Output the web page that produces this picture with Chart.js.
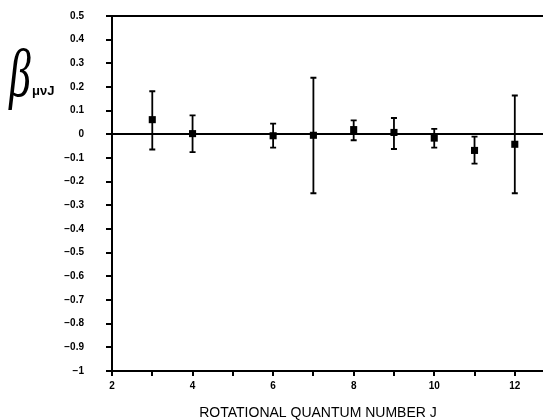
<!DOCTYPE html>
<html>
<head>
<meta charset="utf-8">
<script src="https://cdn.jsdelivr.net/npm/chart.js@4/dist/chart.umd.min.js"></script>
<style>
  html, body { margin: 0; padding: 0; background: #fff; }
</style>
</head>
<body>
<canvas id="chart" width="543" height="420"></canvas>
<script>
// Rotational quantum number J and measured beta (with error limits)
const jValues = [3, 4, 6, 7, 8, 9, 10, 11, 12];
const betaValues = [0.062, 0.003, -0.006, -0.004, 0.02, 0.008, -0.016, -0.068, -0.042];
const betaUpper = [0.182, 0.08, 0.045, 0.239, 0.059, 0.069, 0.023, -0.01, 0.164];
const betaLower = [-0.064, -0.075, -0.056, -0.249, -0.025, -0.062, -0.056, -0.124, -0.249];
const xTickLabels = [2, 4, 6, 8, 10, 12];

const tickFont = { family: "'Liberation Sans', Arial, sans-serif", size: 10, weight: 'bold' };

function yLabel(v) {
    const r = Math.round(v * 10) / 10;
    if (r === 0) return '0';
    if (r === -1) return '\u22121';
    return r < 0 ? '\u2212' + Math.abs(r).toFixed(1) : r.toFixed(1);
}

// error bars drawn through the y scale
const errorBars = {
    id: 'errorBars',
    afterDatasetsDraw(chart) {
        const { ctx, scales: { x, y } } = chart;
        ctx.save();
        ctx.strokeStyle = '#000';
        ctx.lineWidth = 1.8;
        jValues.forEach((j, i) => {
            const px = x.getPixelForValue(j);
            const top = y.getPixelForValue(betaUpper[i]);
            const bot = y.getPixelForValue(betaLower[i]);
            ctx.beginPath();
            ctx.moveTo(px, top);
            ctx.lineTo(px, bot);
            ctx.moveTo(px - 3, top);
            ctx.lineTo(px + 3, top);
            ctx.moveTo(px - 3, bot);
            ctx.lineTo(px + 3, bot);
            ctx.stroke();
        });
        ctx.restore();
    }
};

// y tick labels sit well left of the tick marks, axis titles
const axisText = {
    id: 'axisText',
    afterDraw(chart) {
        const { ctx, scales: { y } } = chart;
        ctx.save();
        ctx.fillStyle = '#000';
        ctx.font = "bold 10px 'Liberation Sans', Arial, sans-serif";
        ctx.textAlign = 'right';
        ctx.textBaseline = 'middle';
        y.ticks.forEach(t => {
            ctx.fillText(yLabel(t.value), 84, y.getPixelForValue(t.value));
        });

        ctx.textAlign = 'center';
        ctx.font = "14px 'Liberation Sans', Arial, sans-serif";
        ctx.fillText('ROTATIONAL QUANTUM NUMBER J', 318, 413);

        ctx.textAlign = 'left';
        ctx.textBaseline = 'alphabetic';
        ctx.font = "bold 13px 'Liberation Sans', Arial, sans-serif";
        ctx.fillText('μνJ', 32, 95);
        ctx.translate(9, 96);
        ctx.scale(0.75, 1.15);
        ctx.font = "italic 58px 'Liberation Serif', serif";
        ctx.fillText('β', 0, 0);
        ctx.restore();
    }
};

const isLine = v => Math.abs(v) < 1e-9 || Math.abs(v - 0.5) < 1e-9;

new Chart(document.getElementById('chart'), {
    type: 'scatter',
    data: {
        datasets: [{
            data: jValues.map((j, i) => ({ x: j, y: betaValues[i] })),
            pointStyle: 'rect',
            pointRadius: 5,
            pointHoverRadius: 5,
            backgroundColor: '#000',
            borderColor: '#000',
            borderWidth: 0
        }]
    },
    options: {
        responsive: false,
        animation: false,
        layout: { autoPadding: false, padding: { top: 16, right: 0, left: 0, bottom: 0 } },
        plugins: {
            legend: { display: false },
            tooltip: { enabled: false }
        },
        scales: {
            x: {
                type: 'linear',
                min: 2,
                max: 12.7,
                afterFit: scale => { scale.height = 49; },
                ticks: {
                    stepSize: 1,
                    includeBounds: false,
                    autoSkip: false,
                    maxRotation: 0,
                    padding: 4,
                    color: '#000',
                    font: tickFont,
                    callback: v => xTickLabels.includes(v) ? String(v) : ''
                },
                grid: {
                    drawOnChartArea: false,
                    drawTicks: true,
                    tickLength: 5,
                    tickColor: '#000',
                    lineWidth: 2
                },
                border: { color: '#000', width: 2 }
            },
            y: {
                min: -1,
                max: 0.5,
                afterFit: scale => { scale.width = 112; },
                ticks: {
                    stepSize: 0.1,
                    autoSkip: false,
                    display: false
                },
                grid: {
                    drawOnChartArea: true,
                    drawTicks: true,
                    tickLength: 6,
                    tickColor: '#000',
                    lineWidth: 2,
                    color: ctx => (ctx.tick && isLine(ctx.tick.value)) ? '#000' : 'rgba(0,0,0,0)'
                },
                border: { color: '#000', width: 2 }
            }
        }
    },
    plugins: [errorBars, axisText]
});
</script>
</body>
</html>
